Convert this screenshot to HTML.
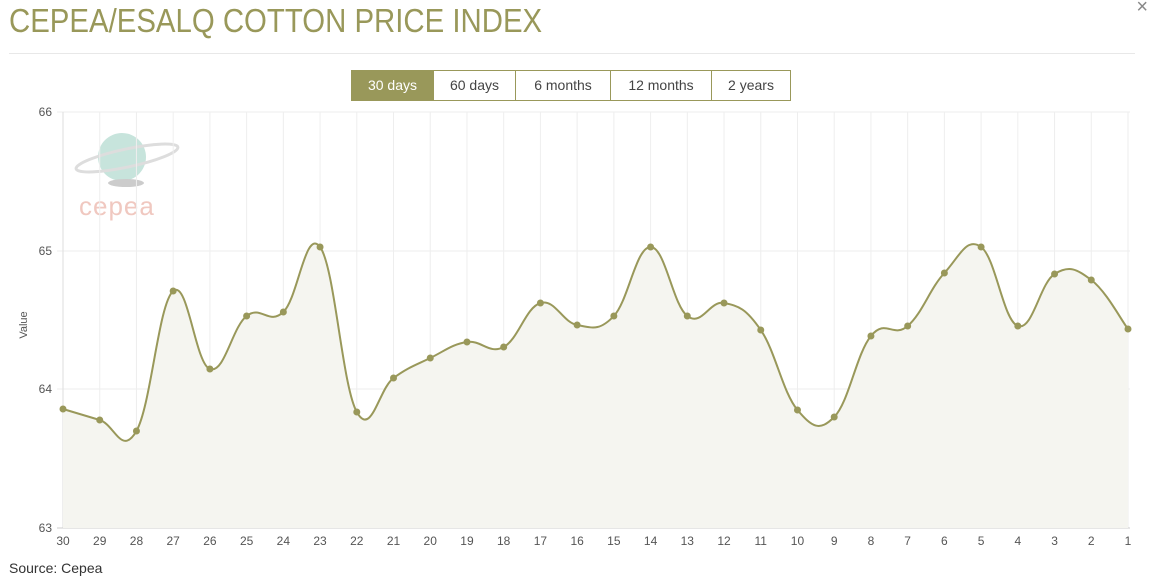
<!DOCTYPE html>
<html><head><meta charset="utf-8"><style>
body{margin:0;background:#fff;font-family:"Liberation Sans",sans-serif;width:1153px;height:580px;overflow:hidden;position:relative}
.title{position:absolute;left:9px;top:2px;font-size:33px;color:#99985a;letter-spacing:0px;transform:scaleX(0.89);transform-origin:left}
.hr{position:absolute;left:9px;top:53px;width:1126px;height:1px;background:#e8e8e8}
.x{position:absolute;right:5px;top:-4px;font-size:20px;color:#888}
.btns{position:absolute;left:351px;top:70px;display:flex;border:1px solid #99985a;height:29px}
.btns div{font-size:14px;color:#444;line-height:29px;text-align:center;border-left:1px solid #99985a}
.btns div:first-child{border-left:none;background:#99985a;color:#fff}
.src{position:absolute;left:9px;top:560px;font-size:14px;color:#333}
svg{position:absolute;left:0;top:0}
</style></head><body>
<div class="title">CEPEA/ESALQ COTTON PRICE INDEX</div>
<div class="x">×</div>
<div class="hr"></div>
<div class="btns"><div style="width:81px">30 days</div><div style="width:81px">60 days</div><div style="width:94px">6 months</div><div style="width:100px">12 months</div><div style="width:78px">2 years</div></div>
<svg id="s" width="1153" height="580" font-family="Liberation Sans, sans-serif"></svg>
<div class="src">Source: Cepea</div>
<script>
var ys=[409,420,431,291,369,316,312,247,412,378,358,342,347,303,325,316,247,316,303,330,410,417,336,326,273,247,326,274,280,329];
var x0=63,dx=(1128-63)/29,s='';
s+='<circle cx="122" cy="157" r="24" fill="#b9ddd3" opacity="0.8"/><ellipse cx="127" cy="158" rx="52" ry="9" fill="none" stroke="#ddd" stroke-width="3" transform="rotate(-12 127 158)"/><ellipse cx="126" cy="183" rx="18" ry="4" fill="#ccc"/><text x="79" y="215" font-size="26" fill="#f0c8c0" letter-spacing="1">cepea</text>';
for(var i=0;i<30;i++){var x=x0+i*dx;s+='<line x1="'+x+'" y1="112" x2="'+x+'" y2="528" stroke="#eee"/>';s+='<text x="'+x+'" y="545" font-size="12" fill="#555" text-anchor="middle">'+(30-i)+'</text>';}
[[66,112],[65,251],[64,389],[63,528]].forEach(function(a){s+='<line x1="57" y1="'+a[1]+'" x2="1130" y2="'+a[1]+'" stroke="#eee"/><text x="52" y="'+(a[1]+4)+'" font-size="12" fill="#555" text-anchor="end">'+a[0]+'</text>';});
s+='<line x1="63" y1="112" x2="63" y2="528" stroke="#ddd"/><line x1="57" y1="528" x2="1130" y2="528" stroke="#ccc"/>';
s+='<text transform="translate(27 325) rotate(-90)" font-size="11" fill="#555" text-anchor="middle">Value</text>';
var P=ys.map(function(y,i){return[x0+i*dx,y]});
var d='M'+P[0][0]+','+P[0][1];
for(var i=0;i<29;i++){var p0=P[Math.max(i-1,0)],p1=P[i],p2=P[i+1],p3=P[Math.min(i+2,29)],t=0.2;
d+=' C'+(p1[0]+(p2[0]-p0[0])*t)+','+(p1[1]+(p2[1]-p0[1])*t)+' '+(p2[0]-(p3[0]-p1[0])*t)+','+(p2[1]-(p3[1]-p1[1])*t)+' '+p2[0]+','+p2[1];}
s+='<path d="'+d+' L1128,528 L63,528Z" fill="#f5f5f0"/>';
s+='<path d="'+d+'" fill="none" stroke="#99985a" stroke-width="2"/>';
P.forEach(function(p){s+='<circle cx="'+p[0]+'" cy="'+p[1]+'" r="3.5" fill="#99985a"/>';});
document.getElementById('s').innerHTML=s;
</script>
</body></html>
